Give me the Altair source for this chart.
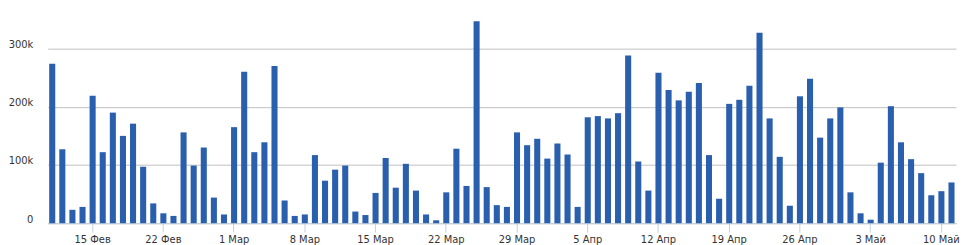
import altair as alt
import pandas as pd

start_date = "2021-02-11"
values_k = [
    274, 127, 23, 28, 219, 122, 190, 150, 171, 97, 34, 17, 12.5, 156, 99, 130, 44, 15,
    165, 260, 122, 139, 270, 39, 12.5, 15, 117, 73, 92, 99, 20, 14, 52, 112, 61, 102,
    56, 15, 5, 53, 128, 64, 347, 62, 31, 28, 156, 134, 145,
    111, 137, 118, 28, 182, 184, 180, 189, 288, 106, 56, 258.5, 229, 211, 226, 241, 117,
    42, 205, 212, 236, 327, 180, 114, 30, 218, 248, 147, 180, 199,
    53, 17, 6, 104, 201, 139, 110, 86, 48, 55, 70,
]
tick_dates = ["2021-02-15", "2021-02-22", "2021-03-01", "2021-03-08", "2021-03-15",
              "2021-03-22", "2021-03-29", "2021-04-05", "2021-04-12", "2021-04-19",
              "2021-04-26", "2021-05-03", "2021-05-10"]
tick_labels = ["15 Фев", "22 Фев", "1 Мар", "8 Мар", "15 Мар", "22 Мар", "29 Мар",
               "5 Апр", "12 Апр", "19 Апр", "26 Апр", "3 Май", "10 Май"]
y_ticks = [0, 100000, 200000, 300000]

dates = pd.date_range(start_date, periods=len(values_k), freq="D").strftime("%Y-%m-%d")
df = pd.DataFrame({"date": dates, "value": [v * 1000 for v in values_k]})

label_expr = "".join(f"datum.value == '{d}' ? '{l}' : " for d, l in zip(tick_dates, tick_labels)) + "''"
y_label_expr = "datum.value == 0 ? '0' : format(datum.value / 1000, 'd') + 'k'"

font = "DejaVu Sans"
chart = (
    alt.Chart(df)
    .mark_bar(color="#2a5fae")
    .encode(
        x=alt.X(
            "date:O",
            sort=None,
            scale=alt.Scale(paddingInner=0.4, paddingOuter=0.15),
            axis=alt.Axis(
                title=None,
                values=tick_dates,
                labelExpr=label_expr,
                labelAngle=0,
                domainColor="#c0d0e0",
                tickColor="#c0d0e0",
                tickSize=9,
                labelPadding=2,
                labelFont=font,
                labelFontSize=10,
                labelColor="#333333",
                grid=False,
            ),
        ),
        y=alt.Y(
            "value:Q",
            scale=alt.Scale(domain=[0, 368000], nice=False),
            axis=alt.Axis(
                title=None,
                values=y_ticks,
                labelExpr=y_label_expr,
                domain=False,
                ticks=False,
                labelPadding=15,
                labelBaseline="alphabetic",
                labelOffset=-1,
                labelFont=font,
                labelFontSize=10,
                labelColor="#333333",
                gridColor="#c0c0c0",
            ),
        ),
    )
    .properties(
        width=916,
        height=216,
        autosize=alt.AutoSizeParams(type="none"),
        padding={"left": 40, "top": 0, "right": 6, "bottom": 22},
    )
    .configure_view(stroke=None)
)

chart.save("out.html", embed_options={"renderer": "svg", "actions": False})
